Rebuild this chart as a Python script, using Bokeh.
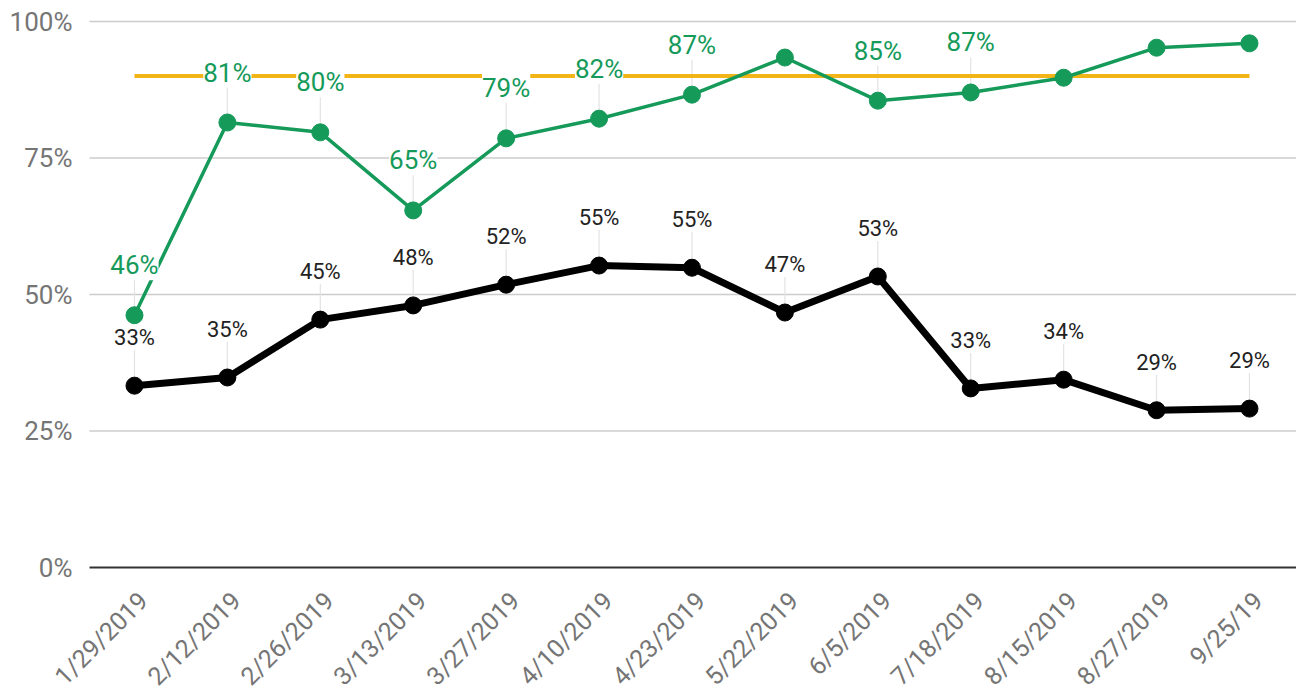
import math
from bokeh.plotting import figure
from bokeh.models import ColumnDataSource, LabelSet, Range1d
from bokeh.embed import file_html
from bokeh.resources import INLINE
from bokeh.core.properties import value

dates = ["1/29/2019", "2/12/2019", "2/26/2019", "3/13/2019", "3/27/2019", "4/10/2019",
         "4/23/2019", "5/22/2019", "6/5/2019", "7/18/2019", "8/15/2019", "8/27/2019", "9/25/19"]
green_vals = [46.2, 81.5, 79.7, 65.4, 78.6, 82.2, 86.6, 93.4, 85.5, 87.0, 89.7, 95.2, 96.0]
green_labels = ["46%", "81%", "80%", "65%", "79%", "82%", "87%", "", "85%", "87%", "", "", ""]
black_vals = [33.3, 34.8, 45.4, 48.0, 51.8, 55.3, 54.9, 46.7, 53.3, 32.8, 34.4, 28.8, 29.1]
black_labels = ["33%", "35%", "45%", "48%", "52%", "55%", "55%", "47%", "53%", "33%", "34%", "29%", "29%"]
target = 90
y_ticks = [0, 25, 50, 75, 100]
y_tick_labels = ["0%", "25%", "50%", "75%", "100%"]

GREEN = "#159A5A"
GOLD = "#F2B416"
FONT = "Roboto"
GREY_TXT = "#757575"

xs = list(range(len(dates)))

# layout of the plotting area inside the figure (pixels)
W, H = 1296, 690
TOP, LEFT = 21, 89
FRAME_H = 546
px_per_unit = FRAME_H / 100.0
X0, X1 = -0.484, 12.506           # visible category span of the plotting area
px_per_x = (W - LEFT) / (X1 - X0)

# the whole figure is the frame, so rotated date labels and tick labels are not clipped
x_range = Range1d(X0 - LEFT / px_per_x, X1)
y_range = Range1d(-(H - TOP - FRAME_H) / px_per_unit, 100 + TOP / px_per_unit)

p = figure(width=W, height=H, output_backend="svg", toolbar_location=None,
           x_range=x_range, y_range=y_range,
           x_axis_location=None, y_axis_location=None, min_border=0)
p.outline_line_color = None
p.background_fill_color = "white"
p.xgrid.grid_line_color = None
p.ygrid.grid_line_color = None

# horizontal gridlines and the base line
grid_y = [t for t in y_ticks if t != 0]
p.segment(x0=[X0] * len(grid_y), y0=grid_y, x1=[X1] * len(grid_y), y1=grid_y,
          line_color="#cccccc", line_width=1.5)
p.segment(x0=[X0], y0=[0], x1=[X1], y1=[0], line_color="#333333", line_width=2)

# y tick labels
p.text(x=[X0] * len(y_ticks), y=y_ticks, text=y_tick_labels, x_offset=-17,
       text_align="right", text_baseline="middle", text_font=value(FONT),
       text_font_size=value("26px"), text_color=GREY_TXT)

# x (date) labels, rotated
dsrc = ColumnDataSource(dict(x=xs, y=[-29 / px_per_unit] * len(xs), t=dates))
p.text(x="x", y="y", text="t", source=dsrc, x_offset=9, angle=math.pi / 4,
       text_align="right", text_baseline="middle", text_font=value(FONT),
       text_font_size=value("25px"), text_color=GREY_TXT)

leader = 46 / px_per_unit
g_idx = [i for i, t in enumerate(green_labels) if t]
gsrc = ColumnDataSource(dict(x=[xs[i] for i in g_idx], y=[green_vals[i] for i in g_idx],
                             y1=[green_vals[i] + leader for i in g_idx],
                             t=[green_labels[i] for i in g_idx]))
bsrc = ColumnDataSource(dict(x=xs, y=black_vals, y1=[v + leader for v in black_vals], t=black_labels))

# leader lines
for src in (gsrc, bsrc):
    p.segment(x0="x", y0="y", x1="x", y1="y1", source=src, line_color="#e3e3e3", line_width=1.2)

# target line
p.line([xs[0], xs[-1]], [target, target], line_color=GOLD, line_width=4)

gl = LabelSet(x="x", y="y", text="t", source=gsrc, y_offset=50, text_align="center",
              text_baseline="middle", text_font=value(FONT), text_font_size=value("26px"),
              text_color=GREEN, background_fill_color="white", level="glyph")
bl = LabelSet(x="x", y="y", text="t", source=bsrc, y_offset=48, text_align="center",
              text_baseline="middle", text_font=value(FONT), text_font_size=value("22px"),
              text_color="#222222", background_fill_color="white", level="glyph")
p.add_layout(gl)
p.add_layout(bl)

p.line(xs, green_vals, line_color=GREEN, line_width=3.5)
p.scatter(xs, green_vals, size=17, fill_color=GREEN, line_color=GREEN)
p.line(xs, black_vals, line_color="black", line_width=7)
p.scatter(xs, black_vals, size=17, fill_color="black", line_color="black")

open("out.html", "w").write(file_html(p, INLINE))
